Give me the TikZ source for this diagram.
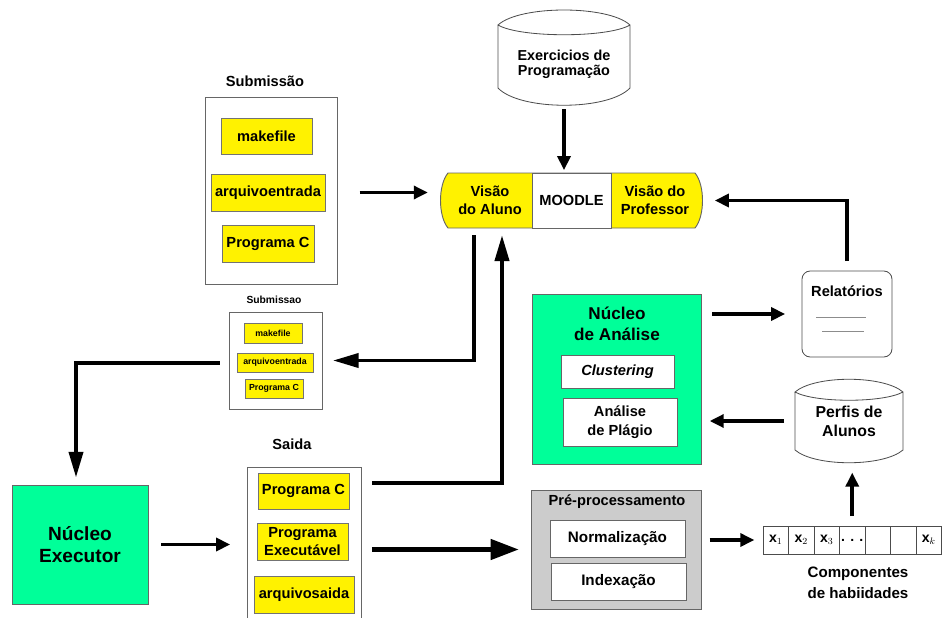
\documentclass[tikz,border=0pt]{standalone}
\usepackage{fontspec}
\setmainfont{Liberation Sans}
\usetikzlibrary{calc}
\usetikzlibrary{arrows.meta}
\definecolor{nucleo}{RGB}{0,255,153}
\newcommand{\pxu}{0.03cm}

\begin{document}
\begin{tikzpicture}[x=\pxu, y=-\pxu,
	every node/.style={font=\bfseries\fontsize{12.5}{15}\selectfont, align=center, inner sep=0pt},
	dim/.style 2 args={minimum width=#1*\pxu, minimum height=#2*\pxu},
	caixa/.style={draw=black!60, line width=0.7pt, fill=white},
	arq/.style={draw=black!55, fill=yellow, line width=0.8pt},
	pq/.style={font=\bfseries\fontsize{7.5}{9}\selectfont},
	arr/.style={line width=3.2pt, -{Triangle[length=12pt,width=11pt]}},
	arrlong/.style={line width=3.2pt, -{Triangle[length=22pt,width=12pt]}},
	arrbig/.style={line width=4pt, -{Triangle[length=24pt,width=17pt]}}]
		\useasboundingbox (0,0) rectangle (942,618);
		% MOODLE
		\draw[line width=0.8pt, draw=black!60, fill=yellow] (448,173) -- (695,173) .. controls (705,185) and (705,216) .. (695,228) -- (448,228) .. controls (438,216) and (438,185) .. (448,173) -- cycle;
		\node[draw=black!60, line width=0.8pt, fill=white, dim={79}{55}] (MOO) at (571.5,200.5) {MOODLE};
		\node[dim={84}{55}] (VA) at (490,200.5) {Visão\\do Aluno};
		\node[dim={84}{55}] (VP) at (655,200.5) {Visão do\\Professor};
		% Exercicios
		\draw[line width=0.7pt, draw=black!70] (498,25) -- (498,88) .. controls (520,111) and (608,111) .. (630,88) -- (630,25) .. controls (608,5) and (520,5) .. (498,25) .. controls (520,38) and (608,38) .. (630,25);
		\node[dim={132}{90}, font=\bfseries\fontsize{12.3}{12.5}\selectfont] (EXC) at (564,64) {Exercicios de\\Programação};
		% Submissao
		\node (SUBT) at (265,81) {Submissão};
		\node[caixa, dim={132}{187}] (SUB) at (271,190.5) {};
		\node[arq, dim={91}{36}] (SUB1) at (266.5,136) {makefile};
		\node[arq, dim={114}{37}] (SUB2) at (268,192.5) {arquivoentrada};
		\node[arq, dim={92}{37}] (SUB3) at (268,243.5) {Programa C};
		\node[font=\bfseries\fontsize{8.8}{10}\selectfont] (SUBST) at (274,300) {Submissao};
		\node[caixa, dim={93}{97}] (SUBS) at (275.5,360.5) {};
		\node[arq, pq, dim={58}{20}] (SUBS1) at (273,333) {makefile};
		\node[arq, pq, dim={76}{19}] (SUBS2) at (275,362.5) {arquivoentrada};
		\node[arq, pq, dim={58}{19}] (SUBS3) at (274,388.5) {Programa C};
		% Executor e Saida
		\node[draw=black!60, line width=0.8pt, fill=nucleo, dim={136}{119}, font=\bfseries\fontsize{16.3}{19}\selectfont] (EXE) at (80,544.5) {Núcleo\\Executor};
		\node (SAIT) at (292,444) {Saida};
		\node[caixa, dim={114}{160}] (SAI) at (304,547) {};
		\node[arq, dim={91}{36}] (SAI1) at (303.5,491) {Programa C};
		\node[arq, dim={91}{37}, font=\bfseries\fontsize{12.5}{15.5}\selectfont] (SAI2) at (302.5,541.5) {Programa\\Executável};
		\node[arq, dim={100}{37}] (SAI3) at (304,594.5) {arquivosaida};
		% Nucleo de Analise
		\node[draw=black!60, line width=0.8pt, fill=nucleo, dim={169}{170}] (NA) at (616.5,379) {};
		\node[font=\bfseries\fontsize{14.6}{18}\selectfont] (NAT) at (617,324) {Núcleo\\de Análise};
		\node[caixa, dim={113}{33}] (CLU) at (617.5,371.5) {\itshape Clustering};
		\node[caixa, dim={114}{48}, font=\bfseries\fontsize{12.5}{16}\selectfont] (PLA) at (620,422) {Análise\\de Plágio};
		% Pre-processamento
		\node[draw=black!60, line width=0.8pt, fill=black!20, dim={170}{119}] (PRE) at (616,549.5) {};
		\node (PRET) at (617,502) {Pré-processamento};
		\node[caixa, dim={135}{37}, font=\bfseries\fontsize{13}{15}\selectfont] (NOR) at (617.5,538.5) {Normalização};
		\node[caixa, dim={135}{37}, font=\bfseries\fontsize{13}{15}\selectfont] (IDX) at (618.5,581.5) {Indexação};
		% Relatorios e Perfis
		\node[draw=black!70, line width=0.7pt, rounded corners=7pt, dim={90}{86}] (REL) at (847,314) {};
		\node (RELT) at (847,291) {Relatórios};
		\draw[black!45, line width=0.8pt] (816,317) -- (866,317) (822,331) -- (864,331);
		\draw[line width=0.7pt, draw=black!70] (795,392) -- (795,450) .. controls (815,467) and (883,467) .. (903,450) -- (903,392) .. controls (883,375) and (815,375) .. (795,392) .. controls (815,403) and (883,403) .. (903,392);
		\node[dim={108}{84}, font=\bfseries\fontsize{13.5}{16}\selectfont] (PER) at (849,421) {Perfis de\\Alunos};
		% Componentes
		\foreach \i/\t in {1/$\mathbf{x}_1$,2/$\mathbf{x}_2$,3/$\mathbf{x}_3$,4/{. . .},5/{},6/{},7/$\mathbf{x}_k$}
			\node[draw=black!70, line width=0.7pt, dim={25.5}{28}, font=\bfseries\fontsize{12}{14}\selectfont] (C\i) at ({750.25+25.5*\i},540) {\t};
		\node[font=\bfseries\fontsize{12.9}{18}\selectfont] (COMP) at (858,583) {Componentes\\de habiidades};
		% setas
		\draw[arr, shorten >=2pt] (EXC.south) -- (EXC.south |- MOO.north);
		\draw[arr, shorten <=19pt, shorten >=17pt] (SUB.east |- SUB2) -- (VA.west |- SUB2);
		\draw[arrlong, shorten >=9pt] ($(VA.south)+(-16,7)$) |- (SUBS.east);
		\draw[arrlong] ($(SAI.east |- SAI1)+(11,-8)$) -| ($(VA.south)+(12,7)$);
		\draw[arrlong] ($(SUBS.west)+(-9,2.5)$) -| ($(EXE.north)+(-4,-7)$);
		\draw[arr, shorten <=11pt, shorten >=14pt] (EXE.east) -- (EXE.east -| SAI.west);
		\draw[arrbig, shorten <=9pt, shorten >=10pt] (SAI.east |- PRE.west) -- (PRE.west);
		\draw[arr, shorten <=9pt, shorten >=14pt] (NA.east |- REL) -- (REL.west);
		\draw[arr, shorten <=8pt, shorten >=15pt] (REL.north) |- (VP.east);
		\draw[arr, shorten <=9pt, shorten >=7pt] (PER.west) -- (PER.west -| NA.east);
		\draw[arr, shorten <=8pt, shorten >=8pt] (C4.north) -- (C4.north |- PER.south);
		\draw[arr, shorten <=7pt, shorten >=7pt] (PRE.east |- C1) -- (C1.west);
	\end{tikzpicture}
\end{document}
